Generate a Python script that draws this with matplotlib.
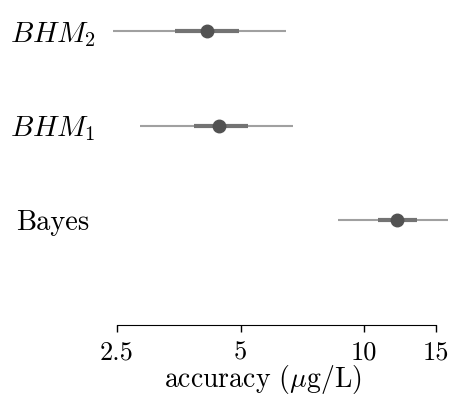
import numpy as np
import matplotlib
matplotlib.use("Agg")
import matplotlib.pyplot as plt
import matplotlib.transforms as mtransforms
from matplotlib.ticker import FixedLocator, FixedFormatter, NullLocator

plt.rcParams['font.family'] = 'serif'
plt.rcParams['font.serif'] = ['cmr10']
plt.rcParams['mathtext.fontset'] = 'cm'
plt.rcParams['axes.formatter.use_mathtext'] = True

# %% Data, top to bottom
labels = [r'$BHM_2$', r'$BHM_1$', 'Bayes']
median = [4.14, 4.43, 12.04]
hdi_low = [2.44, 2.84, 8.64]
hdi_high = [6.45, 6.71, 16.0]
iqr_low = [3.46, 3.85, 10.82]
iqr_high = [4.96, 5.22, 13.47]
xticks = [2.5, 5, 10, 15]
xticklabels = ['2.5', '5', '10', '15']

# %% Plot
fig = plt.figure(figsize=(4.51, 3.95), dpi=100)
ax = fig.add_axes([0.2395, 0.1772, 0.7583, 0.8101])

ypos = np.arange(len(labels))[::-1]
for i, y in enumerate(ypos):
    ax.plot([hdi_low[i], hdi_high[i]], [y, y], color='#a0a0a0', lw=1.5,
            solid_capstyle='butt')
    ax.plot([iqr_low[i], iqr_high[i]], [y, y], color='#737373', lw=3,
            solid_capstyle='butt')
    ax.plot(median[i], y, 'o', color='#525252', ms=9)

ax.set_xscale('log')
ax.set_xlim(2.377, 16.2)
ax.set_ylim(-1.111, 2.275)
ax.xaxis.set_major_locator(FixedLocator(xticks))
ax.xaxis.set_major_formatter(FixedFormatter(xticklabels))
ax.xaxis.set_minor_locator(NullLocator())
ax.set_yticks(ypos)
ax.set_yticklabels(labels)
ax.tick_params(axis='y', length=0, pad=9, labelsize=21)
ax.tick_params(axis='x', labelsize=19, length=5, width=1, pad=6)
# plain-text label sits a little further left in the original
ytl = ax.get_yticklabels()
ytl[2].set_fontsize(20.5)
ytl[2].set_transform(ytl[2].get_transform() +
                     mtransforms.ScaledTranslation(-0.06, 0, fig.dpi_scale_trans))
for s in ['top', 'right', 'left']:
    ax.spines[s].set_visible(False)
ax.spines['bottom'].set_bounds(2.5, 15)
ax.set_xlabel(r'accuracy ($\mu$g/L)', fontsize=20)
ax.xaxis.set_label_coords(0.452, -0.118)

fig.savefig('out.png', dpi=100)
